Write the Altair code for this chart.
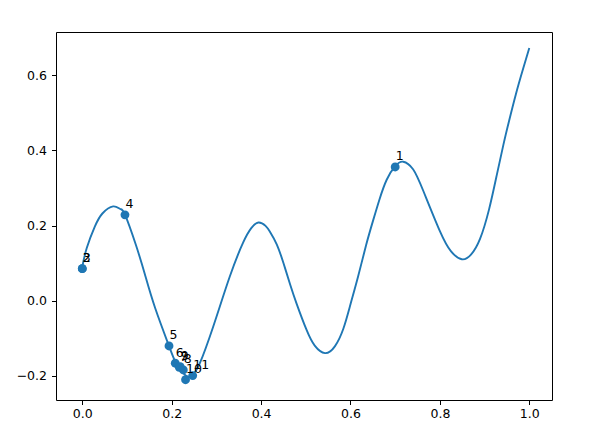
import altair as alt
import pandas as pd

# Curve
curve_x = [0.000, 0.010, 0.028, 0.045, 0.069, 0.085, 0.0955, 0.120, 0.140, 0.163,
           0.194, 0.207, 0.220, 0.237, 0.250, 0.263, 0.293, 0.330, 0.360, 0.378,
           0.394, 0.410, 0.420, 0.435, 0.450, 0.465, 0.480, 0.502, 0.520, 0.543, 0.565,
           0.584, 0.600, 0.617, 0.635, 0.651, 0.665, 0.681, 0.700, 0.718, 0.740,
           0.763, 0.800, 0.825, 0.849, 0.870, 0.890, 0.910, 0.927, 0.942, 0.955,
           0.970, 0.985, 1.000]
curve_y = [0.090, 0.140, 0.197, 0.232, 0.251, 0.244, 0.229, 0.148, 0.070, -0.020,
           -0.121, -0.160, -0.185, -0.203, -0.193, -0.167, -0.069, 0.064, 0.155, 0.193,
           0.208, 0.199, 0.183, 0.150, 0.100, 0.043, -0.010, -0.079, -0.120, -0.140, -0.122,
           -0.075, -0.010, 0.064, 0.148, 0.215, 0.270, 0.322, 0.358, 0.370, 0.350,
           0.292, 0.185, 0.131, 0.110, 0.123, 0.165, 0.243, 0.333, 0.415, 0.480,
           0.550, 0.613, 0.673]

# Sampled points
point_x = [0.700, 0.000, 0.000, 0.0955, 0.194, 0.208, 0.217, 0.226, 0.219, 0.231, 0.247]
point_y = [0.356, 0.085, 0.085, 0.2285, -0.121, -0.167, -0.178, -0.185, -0.176, -0.211, -0.200]
point_labels = ["1", "2", "3", "4", "5", "6", "7", "8", "9", "10", "11"]

x_ticks = [0.0, 0.2, 0.4, 0.6, 0.8, 1.0]
y_ticks = [-0.2, 0.0, 0.2, 0.4, 0.6]

curve_df = pd.DataFrame({"x": curve_x, "y": curve_y})
pts_df = pd.DataFrame({"x": point_x, "y": point_y, "label": point_labels})

xscale = alt.Scale(domain=[-0.0588, 1.0508], nice=False, zero=False)
yscale = alt.Scale(domain=[-0.265, 0.7157], nice=False, zero=False)

common_axis = dict(
    format=".1f", grid=False, domain=False, title=None,
    tickSize=4.5, tickColor="black", tickWidth=1,
    labelFontSize=12.5, labelColor="black", labelFont="DejaVu Sans",
)
xaxis = alt.Axis(values=x_ticks, labelPadding=3, **common_axis)
yaxis = alt.Axis(values=y_ticks, labelPadding=5, **common_axis)

color = "#1f77b4"

line = alt.Chart(curve_df).mark_line(
    color=color, strokeWidth=1.9, interpolate="natural"
).encode(
    x=alt.X("x:Q", scale=xscale, axis=xaxis),
    y=alt.Y("y:Q", scale=yscale, axis=yaxis),
)

points = alt.Chart(pts_df).mark_circle(
    color=color, size=78, opacity=1
).encode(
    x=alt.X("x:Q", scale=xscale),
    y=alt.Y("y:Q", scale=yscale),
)

labels = alt.Chart(pts_df).mark_text(
    align="left", baseline="alphabetic", dx=0.5, dy=-6.5,
    fontSize=12.5, font="DejaVu Sans", color="black"
).encode(
    x=alt.X("x:Q", scale=xscale),
    y=alt.Y("y:Q", scale=yscale),
    text="label:N",
)

chart = alt.layer(line, points, labels).properties(
    width=496, height=368,
    autosize=alt.AutoSizeParams(type="none"),
    padding={"left": 48, "top": 24, "right": 40, "bottom": 30},
).configure_view(
    stroke="black", strokeWidth=1
)

chart.save("out.html", embed_options={"renderer": "svg", "actions": False})
